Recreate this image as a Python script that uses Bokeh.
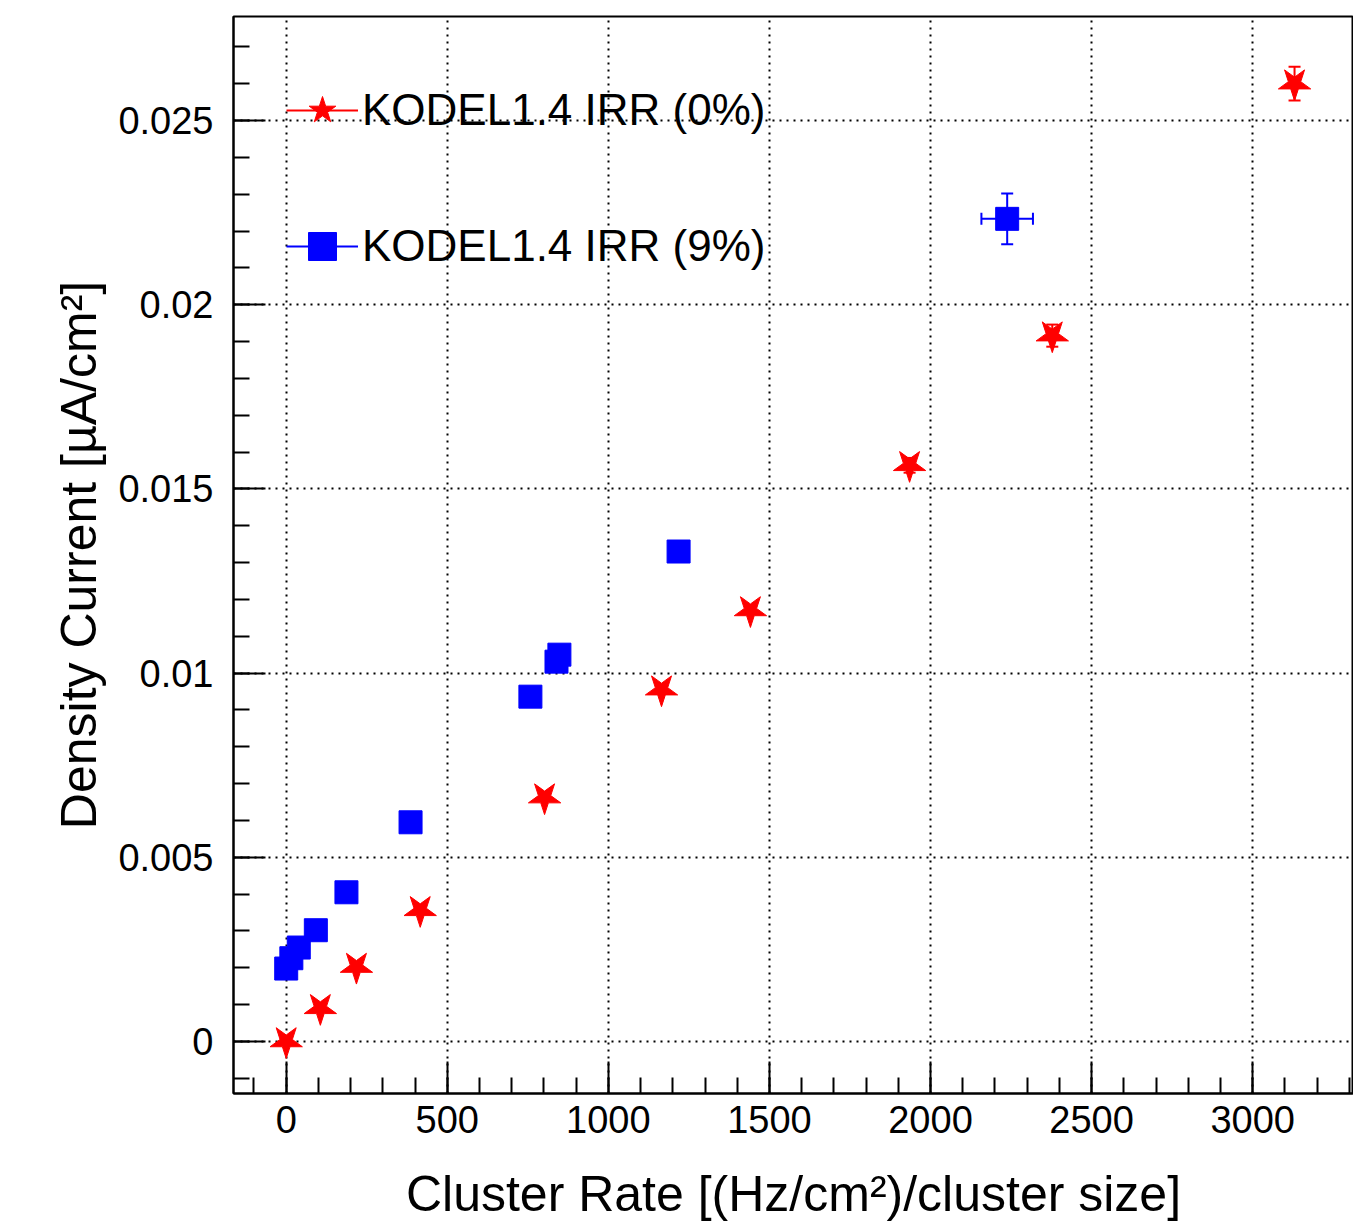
import numpy as np
from bokeh.plotting import figure
from bokeh.models import (ColumnDataSource, FixedTicker, Whisker, TeeHead,
                          Legend, LegendItem, Range1d)
from bokeh.embed import file_html
from bokeh.resources import INLINE

# ---------------- data ----------------
rate_0 = [0, 106, 218, 416, 802, 1165, 1441, 1935, 2378, 3130]
current_0 = [0.0, 0.0009, 0.00202, 0.00356, 0.00662, 0.00955, 0.0117, 0.01564, 0.01916, 0.0260]
current_0_err = [0, 0, 0, 0, 0, 0, 0, 0.0002, 0.0003, 0.00046]

rate_9 = [0, 16, 39, 92, 187, 386, 758, 839, 848, 1218, 2238]
current_9 = [0.00198, 0.00226, 0.00255, 0.00302, 0.00405, 0.00595, 0.00936, 0.01031, 0.0105, 0.0133, 0.02233]
rate_9_err = [0, 0, 0, 0, 0, 0, 0, 0, 0, 0, 80]
current_9_err = [0, 0, 0, 0, 0, 0, 0, 0, 0, 0, 0.00069]

label_0 = "KODEL1.4 IRR (0%)"
label_9 = "KODEL1.4 IRR (9%)"

x_ticks = [0, 500, 1000, 1500, 2000, 2500, 3000]
x_tick_labels = ["0", "500", "1000", "1500", "2000", "2500", "3000"]
x_minor = [-100 + 100 * i for i in range(35)]
y_ticks = [0.0, 0.005, 0.01, 0.015, 0.02, 0.025]
y_tick_labels = ["0", "0.005", "0.01", "0.015", "0.02", "0.025"]
y_minor = [-0.001 + 0.001 * i for i in range(29)]

x_title = "Cluster Rate [(Hz/cm²)/cluster size]"
y_title = "Density Current [µA/cm²]"

FONT = "Liberation Sans"

# ---------------- figure ----------------
p = figure(width=1353, height=1225, output_backend="svg", toolbar_location=None,
           x_range=Range1d(-163.6, 3313), y_range=Range1d(-0.001412, 0.027823))
p.min_border_left = 233
p.min_border_right = 0
p.min_border_top = 16
p.min_border_bottom = 132
p.background_fill_color = "white"
p.border_fill_color = "white"
p.outline_line_color = "black"
p.outline_line_width = 2

for ax, ticks, labels, minor in ((p.xaxis[0], x_ticks, x_tick_labels, x_minor),
                                 (p.yaxis[0], y_ticks, y_tick_labels, y_minor)):
    ax.ticker = FixedTicker(ticks=ticks, minor_ticks=minor)
    ax.major_label_overrides = {t: l for t, l in zip(ticks, labels)}
    ax.major_label_text_font = FONT
    ax.major_label_text_font_size = "38px"
    ax.major_label_text_color = "black"
    ax.axis_label_text_font = FONT
    ax.axis_label_text_font_size = "50px"
    ax.axis_label_text_font_style = "normal"
    ax.axis_label_text_color = "black"
    ax.axis_line_color = "black"
    ax.axis_line_width = 2
    ax.major_tick_line_color = "black"
    ax.major_tick_line_width = 2
    ax.minor_tick_line_color = "black"
    ax.minor_tick_line_width = 2
    ax.major_tick_in = 32
    ax.major_tick_out = 0
    ax.minor_tick_in = 16
    ax.minor_tick_out = 0

p.xaxis.axis_label = x_title
p.yaxis.axis_label = y_title
p.xaxis.major_label_standoff = 12
p.yaxis.major_label_standoff = 20
p.xaxis.axis_label_standoff = 30
p.yaxis.axis_label_standoff = 8

p.xgrid.ticker = FixedTicker(ticks=x_ticks)
p.ygrid.ticker = FixedTicker(ticks=y_ticks)
for g in (p.xgrid[0], p.ygrid[0]):
    g.grid_line_color = "black"
    g.grid_line_dash = "2 5"
    g.grid_line_width = 2

# ---------------- error bars ----------------
def whisker(base, center, err, color, dim):
    b = [v for v, e in zip(base, err) if e > 0]
    c = [v for v, e in zip(center, err) if e > 0]
    e_ = [e for e in err if e > 0]
    src = ColumnDataSource(dict(base=b, lower=[ci - ei for ci, ei in zip(c, e_)],
                                upper=[ci + ei for ci, ei in zip(c, e_)]))
    w = Whisker(base="base", lower="lower", upper="upper", source=src, dimension=dim,
                line_color=color, line_width=2,
                upper_head=TeeHead(size=12, line_color=color, line_width=2),
                lower_head=TeeHead(size=12, line_color=color, line_width=2))
    p.add_layout(w)

whisker(rate_0, current_0, current_0_err, "red", "height")
whisker(rate_9, current_9, current_9_err, "blue", "height")
whisker(current_9, rate_9, rate_9_err, "blue", "width")

# ---------------- markers ----------------
src0 = ColumnDataSource(dict(x=rate_0, y=current_0))
src9 = ColumnDataSource(dict(x=rate_9, y=current_9))
r0 = p.scatter("x", "y", source=src0, marker="star", size=34, angle=np.pi,
               fill_color="red", line_color="red")
r9 = p.scatter("x", "y", source=src9, marker="square", size=23,
               fill_color="blue", line_color="blue")
# legend-only line glyphs (single NaN point, nothing drawn in the plot)
l0 = p.line(x=[np.nan], y=[np.nan], line_color="red", line_width=2)
l9 = p.line(x=[np.nan], y=[np.nan], line_color="blue", line_width=2)

legend = Legend(items=[LegendItem(label=label_0, renderers=[l0, r0]),
                       LegendItem(label=label_9, renderers=[l9, r9])],
                location=(53, 812), orientation="vertical",
                glyph_width=72, glyph_height=70, spacing=66, padding=0, margin=0,
                label_standoff=4, label_text_font=FONT, label_text_font_size="44px",
                label_text_color="black", label_text_baseline="middle",
                border_line_color=None, background_fill_alpha=0)
p.add_layout(legend, "center")

open("out.html", "w").write(file_html(p, INLINE))
